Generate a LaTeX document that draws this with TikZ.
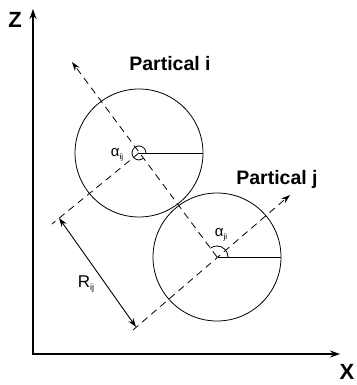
\documentclass[tikz,border=0pt]{standalone}
\usepackage{fontspec}
\setmainfont{Liberation Sans}
\usetikzlibrary{arrows.meta}
\begin{document}
\begin{tikzpicture}[x=1pt,y=-1pt,
  axisln/.style={line width=1.1pt,{Stealth[length=10pt,width=7pt]}-{Stealth[length=10pt,width=7pt]}},
  dashln/.style={line width=0.8pt,dash pattern=on 7pt off 5pt},
  dasharrow/.style={dashln,-{Stealth[length=9pt,width=6pt]}},
  solidln/.style={line width=0.8pt},
  dimarrow/.style={line width=0.9pt,{Stealth[length=9pt,width=6pt]}-{Stealth[length=9pt,width=6pt]}},
  partball/.style={circle,draw,line width=0.8pt,minimum size=128pt,inner sep=0pt},
  axislbl/.style={font=\bfseries\fontsize{22}{24}\selectfont,inner sep=0pt},
  title/.style={font=\bfseries\fontsize{19.5}{22}\selectfont,inner sep=0pt},
  anglbl/.style={font=\fontsize{15}{16}\selectfont,inner sep=0pt},
  dimlbl/.style={font=\fontsize{17}{18}\selectfont,inner sep=0pt}]
\useasboundingbox (0,0) rectangle (356,385);
% axes
\coordinate (O) at (33,354);
\coordinate (Ztip) at (33,9);
\coordinate (Xtip) at (340,354);
\draw[axisln] (Ztip) -- (O) -- (Xtip);
\node[axislbl] (Z) at (15,20) {Z};
\node[axislbl] (X) at (347,372) {X};
% particles
\node[partball] (circI) at (139,153) {};
\node[partball] (circJ) at (217,257) {};
\draw[solidln] (circI.center) -- (circI.east);
\draw[solidln] (circJ.center) -- (circJ.east);
% dashed lines
\coordinate (Ai) at (72,62);
\draw[dasharrow] (circJ.center) -- (Ai);
\coordinate (Pj) at (133,330);
\coordinate (Aj) at (290,195);
\draw[dasharrow] (Pj) -- (Aj);
\coordinate (Pi) at (52,224);
\draw[dashln] (circI.center) -- (Pi);
% angle arcs
\draw[solidln] ([xshift=7pt]circI.center) arc[start angle=0,end angle=307,radius=7pt];
\draw[solidln] ([xshift=11pt]circJ.center) arc[start angle=0,end angle=127,radius=11pt];
% dimension
\coordinate (R1) at (59,218);
\coordinate (R2) at (136,327);
\draw[dimarrow] (R1) -- (R2);
% labels
\node[title] (labI) at (170,64) {Partical i};
\node[title] (labJ) at (277,179) {Partical j};
\node[anglbl] (aij) at (117,155) {α\raisebox{-2.5pt}{\fontsize{8}{9}\selectfont ij}};
\node[anglbl] (aji) at (221,235) {α\raisebox{-2.5pt}{\fontsize{8}{9}\selectfont ji}};
\node[dimlbl] (Rij) at (86,284) {R\raisebox{-3pt}{\fontsize{9}{10}\selectfont ij}};
\end{tikzpicture}
\end{document}
